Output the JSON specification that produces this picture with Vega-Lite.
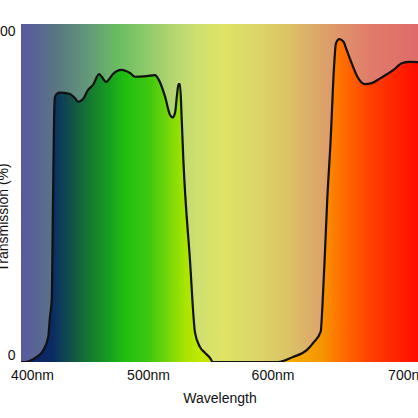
{
  "$schema": "https://vega.github.io/schema/vega-lite/v6.json",
  "autosize": {"type": "none"},
  "padding": {"left": 21, "top": 24, "right": 0, "bottom": 56},
  "width": 397,
  "height": 338,
  "background": "white",
  "config": {
    "view": {"stroke": null},
    "font": "Liberation Sans",
    "axis": {
      "labelFont": "Liberation Sans",
      "titleFont": "Liberation Sans",
      "labelFontSize": 14,
      "titleFontSize": 14,
      "titleFontWeight": "normal",
      "labelColor": "#111",
      "titleColor": "#111",
      "domain": false,
      "ticks": false,
      "grid": false
    }
  },
  "data": {
    "values": [
      {"wl": 390.5, "t": 0},
      {"wl": 394.0, "t": 0},
      {"wl": 404.0, "t": 1.5},
      {"wl": 409.7, "t": 3.5},
      {"wl": 414.0, "t": 7.5},
      {"wl": 415.5, "t": 13.4},
      {"wl": 417.0, "t": 18.3},
      {"wl": 418.1, "t": 47.9},
      {"wl": 419.0, "t": 71.6},
      {"wl": 419.8, "t": 78.4},
      {"wl": 421.6, "t": 79.4},
      {"wl": 424.1, "t": 79.7},
      {"wl": 428.4, "t": 79.6},
      {"wl": 432.8, "t": 79.3},
      {"wl": 437.1, "t": 78.0},
      {"wl": 439.9, "t": 77.0},
      {"wl": 444.0, "t": 77.8},
      {"wl": 448.3, "t": 80.5},
      {"wl": 452.6, "t": 82.0},
      {"wl": 457.8, "t": 85.2},
      {"wl": 460.3, "t": 84.3},
      {"wl": 463.8, "t": 82.9},
      {"wl": 469.8, "t": 85.2},
      {"wl": 473.3, "t": 86.1},
      {"wl": 477.3, "t": 86.4},
      {"wl": 481.0, "t": 86.1},
      {"wl": 484.5, "t": 85.5},
      {"wl": 488.8, "t": 84.4},
      {"wl": 498.9, "t": 84.6},
      {"wl": 505.6, "t": 84.9},
      {"wl": 508.8, "t": 83.4},
      {"wl": 513.7, "t": 78.5},
      {"wl": 517.7, "t": 73.1},
      {"wl": 519.8, "t": 72.4},
      {"wl": 521.7, "t": 73.7},
      {"wl": 523.3, "t": 79.0},
      {"wl": 524.5, "t": 82.2},
      {"wl": 525.7, "t": 82.2},
      {"wl": 527.1, "t": 71.6},
      {"wl": 528.4, "t": 59.8},
      {"wl": 533.7, "t": 30.2},
      {"wl": 537.8, "t": 8.6},
      {"wl": 541.8, "t": 4.4},
      {"wl": 545.8, "t": 2.7},
      {"wl": 549.8, "t": 1.2},
      {"wl": 552.2, "t": 0},
      {"wl": 604.0, "t": 0},
      {"wl": 615.0, "t": 1.5},
      {"wl": 625.1, "t": 3.5},
      {"wl": 629.7, "t": 5.6},
      {"wl": 635.3, "t": 9.0},
      {"wl": 636.8, "t": 18.3},
      {"wl": 638.5, "t": 33.1},
      {"wl": 640.1, "t": 47.9},
      {"wl": 642.6, "t": 65.7},
      {"wl": 645.1, "t": 87.4},
      {"wl": 646.5, "t": 94.3},
      {"wl": 648.9, "t": 95.5},
      {"wl": 651.9, "t": 94.8},
      {"wl": 654.4, "t": 92.3},
      {"wl": 658.0, "t": 88.4},
      {"wl": 662.9, "t": 83.9},
      {"wl": 667.8, "t": 82.2},
      {"wl": 672.7, "t": 82.5},
      {"wl": 678.8, "t": 83.9},
      {"wl": 688.6, "t": 86.4},
      {"wl": 694.7, "t": 88.4},
      {"wl": 700.7, "t": 88.8},
      {"wl": 706.6, "t": 88.7}
    ]
  },
  "encoding": {
    "x": {
      "field": "wl",
      "type": "quantitative",
      "title": "Wavelength",
      "scale": {
        "domain": [390.5, 400, 500, 600, 700, 706.6],
        "range": [0, 11, 127, 251.5, 388, 397],
        "nice": false,
        "zero": false
      },
      "axis": {
        "values": [400, 500, 600, 700],
        "labelExpr": "datum.value + 'nm'",
        "labelPadding": 6,
        "titlePadding": 9
      }
    },
    "y": {
      "field": "t",
      "type": "quantitative",
      "title": "Transmission (%)",
      "scale": {"domain": [0, 100], "nice": false},
      "axis": {
        "values": [0, 100],
        "labelFlush": true,
        "labelPadding": 6,
        "titleX": -14,
        "titleY": 193,
        "titleAngle": -90,
        "titleAlign": "center",
        "titleBaseline": "alphabetic"
      }
    }
  },
  "layer": [
    {
      "mark": {
        "type": "area",
        "fill": {
          "gradient": "linear",
          "x1": 0, "x2": 1, "y1": 0, "y2": 0,
          "stops": [
            {"offset": 0, "color": "#5858a0"},
            {"offset": 0.1, "color": "#5a7a80"},
            {"offset": 0.167, "color": "#62987a"},
            {"offset": 0.242, "color": "#6abc62"},
            {"offset": 0.307, "color": "#88c868"},
            {"offset": 0.375, "color": "#b0d470"},
            {"offset": 0.443, "color": "#cee070"},
            {"offset": 0.509, "color": "#dfe366"},
            {"offset": 0.584, "color": "#dcd868"},
            {"offset": 0.67, "color": "#dcc464"},
            {"offset": 0.728, "color": "#dcae6a"},
            {"offset": 0.796, "color": "#de966a"},
            {"offset": 0.879, "color": "#e07c6a"},
            {"offset": 1, "color": "#e06a6a"}
          ]
        }
      },
      "encoding": {
        "y": {"datum": 100, "type": "quantitative"},
        "y2": {"datum": 0}
      }
    },
    {
      "mark": {
        "type": "area",
        "interpolate": "monotone",
        "fill": {
          "gradient": "linear",
          "x1": 0, "x2": 1, "y1": 0, "y2": 0,
          "stops": [
            {"offset": 0, "color": "#0a1c6a"},
            {"offset": 0.08, "color": "#0a2c62"},
            {"offset": 0.1, "color": "#0c3d5a"},
            {"offset": 0.123, "color": "#124e48"},
            {"offset": 0.174, "color": "#147a30"},
            {"offset": 0.224, "color": "#18a020"},
            {"offset": 0.262, "color": "#20be10"},
            {"offset": 0.325, "color": "#40c810"},
            {"offset": 0.375, "color": "#78d808"},
            {"offset": 0.413, "color": "#a8e400"},
            {"offset": 0.45, "color": "#c0ea00"},
            {"offset": 0.6, "color": "#f8c800"},
            {"offset": 0.76, "color": "#f59400"},
            {"offset": 0.8, "color": "#ff7400"},
            {"offset": 0.88, "color": "#ff4000"},
            {"offset": 1, "color": "#ff0c00"}
          ]
        }
      }
    },
    {
      "mark": {
        "type": "line",
        "interpolate": "monotone",
        "color": "#111",
        "strokeWidth": 2.2,
        "clip": true
      }
    }
  ]
}
